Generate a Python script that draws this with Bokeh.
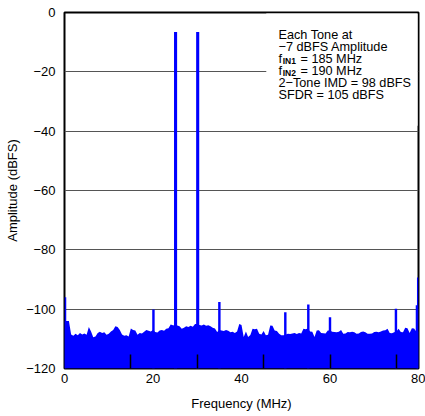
from bokeh.plotting import figure
from bokeh.models import Range1d, FixedTicker, CustomJSTickFormatter, BoxAnnotation, Label
from bokeh.embed import file_html
from bokeh.resources import INLINE

FONT = "Liberation Sans"
BLUE = "#0000FF"

# Noise floor, one value every 0.5 MHz from 0 to 80 MHz (dBFS)
freq_step = 0.5
floor_db = [
    -104, -104, -104, -108.5, -109, -108.3, -108.8, -108, -108.5, -108.2,   # 0 - 4.5
    -108.6, -106, -107.5, -109.5, -109.2, -108, -107.6, -108, -107.8, -108.6,  # 5 - 9.5
    -108.3, -107.5, -107, -105.8, -106, -107, -108.5, -109, -108.8, -109.2,  # 10 - 14.5
    -106.5, -107, -107.2, -108.6, -108, -108.2, -107.6, -107, -107.3, -107.5,  # 15 - 19.5
    -107, -107.7, -107.9, -107.2, -107, -107.3, -106.6, -106.4, -105.2, -105.4,  # 20 - 24.5
    -105.5, -105.5, -105.8, -106.6, -106.3, -105.8, -106, -105.6, -105.9, -105,  # 25 - 29.5
    -105, -105.3, -105.5, -105.2, -105.6, -105.4, -105.8, -106.3, -106.5, -107.7,  # 30 - 34.5
    -107, -107.2, -107.4, -107, -107.3, -107.8, -107.6, -108, -107.5, -105,  # 35 - 39.5
    -105.3, -109.4, -107.5, -109.4, -108.7, -106.6, -106.8, -106.6, -108.3, -108.5,  # 40 - 44.5
    -107.4, -108.8, -108.6, -105.5, -105.6, -107.2, -107.4, -108.3, -108.8, -108.8,  # 45 - 49.5
    -108.5, -108.3, -108.4, -108.2, -108, -108.4, -108, -108.2, -106.6, -106.8,  # 50 - 54.5
    -106.5, -107.5, -107.6, -109.4, -107.2, -107.1, -108, -108.1, -108.2, -107.2,  # 55 - 59.5
    -107.2, -107.6, -107.7, -107.8, -107.6, -107, -108.3, -108.2, -107.7, -107.8,  # 60 - 64.5
    -107.6, -107.8, -108.3, -108.2, -107.7, -107.5, -107.8, -108.3, -108.3, -108.2,  # 65 - 69.5
    -107.7, -107.6, -107.8, -107.5, -107.2, -107.1, -106.6, -108, -108.1, -107.8,  # 70 - 74.5
    -107.5, -106.6, -107.7, -107.8, -106.3, -106.4, -108, -106.4, -106.5, -107.5,  # 75 - 79.5
    -107.5,  # 80
]
freq = [i * freq_step for i in range(len(floor_db))]

# Fundamental tones (MHz, dBFS)
tone_freq = [25.1, 30.1]
tone_db = [-6.6, -6.6]

# Spurs (MHz, dBFS)
spur_freq = [0.12, 20.1, 35.0, 49.9, 55.1, 60.0, 74.9, 79.65, 79.93]
spur_db = [-96, -100.1, -97.6, -101, -98.4, -102.7, -99.9, -98.7, -89.3]

x_ticks = [0, 20, 40, 60, 80]
x_inner_ticks = [15, 30, 45, 60, 75]
y_ticks = [0, -20, -40, -60, -80, -100, -120]

p = figure(width=425, height=416, output_backend="svg", toolbar_location=None,
           x_range=Range1d(0, 80), y_range=Range1d(-120, 0),
           min_border_left=64, min_border_right=7, min_border_top=12, min_border_bottom=48)

p.background_fill_color = "white"
p.border_fill_color = "white"
p.outline_line_color = "black"
p.outline_line_width = 2

# grid
p.xgrid.visible = False
p.ygrid.ticker = FixedTicker(ticks=y_ticks)
p.ygrid.grid_line_color = "#555555"
p.ygrid.grid_line_width = 1

# spectrum
p.varea(x=freq, y1=-120, y2=floor_db, fill_color=BLUE)
p.vbar(x=spur_freq, top=spur_db, bottom=-120, width=0.55, fill_color=BLUE, line_color=None)
p.vbar(x=tone_freq, top=tone_db, bottom=-120, width=0.7, fill_color=BLUE, line_color=None)

# white box behind annotation
p.add_layout(BoxAnnotation(left=45.6, right=79.8, top=-0.3, bottom=-38.2,
                           fill_color="white", fill_alpha=1.0, line_color=None, level="underlay"))

fmt = CustomJSTickFormatter(code="return tick < 0 ? '\u2212' + (-tick) : '' + tick;")

xa = p.xaxis[0]
xa.ticker = FixedTicker(ticks=x_ticks, minor_ticks=x_inner_ticks)
xa.axis_line_color = None
xa.major_tick_line_color = None
xa.major_tick_in = 0
xa.major_tick_out = 0
xa.minor_tick_in = 14
xa.minor_tick_out = 0
xa.minor_tick_line_color = "black"
xa.minor_tick_line_width = 1.5
xa.major_label_standoff = 5
xa.axis_label = "Frequency (MHz)"
xa.axis_label_standoff = 10

ya = p.yaxis[0]
ya.ticker = FixedTicker(ticks=y_ticks)
ya.formatter = fmt
ya.axis_line_color = None
ya.major_tick_line_color = None
ya.minor_tick_line_color = None
ya.major_tick_in = 0
ya.major_tick_out = 0
ya.minor_tick_in = 0
ya.minor_tick_out = 0
ya.major_label_standoff = 9
ya.axis_label = "Amplitude (dBFS)"
ya.axis_label_standoff = 3

for ax in (xa, ya):
    ax.major_label_text_font = FONT
    ax.major_label_text_font_size = "13px"
    ax.major_label_text_color = "black"
    ax.axis_label_text_font = FONT
    ax.axis_label_text_font_size = "13px"
    ax.axis_label_text_font_style = "normal"
    ax.axis_label_text_color = "black"

# annotation text
anno_x = 48.36
anno_y0 = -7.75
anno_dy = -4.02
ann_size = "12.7px"

def lab(text, x, y, x_off=0, size=ann_size, style="normal", align="left", color="black"):
    p.add_layout(Label(x=x, y=y, text=text, x_offset=x_off, text_font=FONT,
                       text_font_size=size, text_font_style=style, text_color=color,
                       text_baseline="alphabetic", text_align=align))

lab("Each Tone at", anno_x, anno_y0)
lab("\u22127 dBFS Amplitude", anno_x, anno_y0 + anno_dy)
for k, (sub, rest) in enumerate([("IN1", "= 185 MHz"), ("IN2", "= 190 MHz")]):
    yb = anno_y0 + anno_dy * (2 + k)
    lab("f", anno_x, yb)
    lab(sub, anno_x, yb - 0.7, x_off=4.2, size="8.5px", style="bold")
    lab(rest, anno_x, yb, x_off=22.0)
lab("2\u2212Tone IMD = 98 dBFS", anno_x, anno_y0 + anno_dy * 4)
lab("SFDR = 105 dBFS", anno_x, anno_y0 + anno_dy * 5)

# tiny figure code at bottom right (screen units relative to the plot frame)
p.add_layout(Label(x=359, y=-40, x_units="screen", y_units="screen", text="G003",
                   text_font=FONT, text_font_size="6px", text_color="#333333",
                   text_baseline="alphabetic", text_align="right"))

open("out.html", "w").write(file_html(p, INLINE))
